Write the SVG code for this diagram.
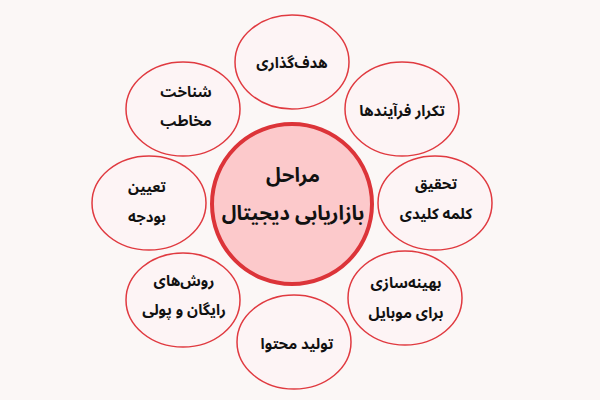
<svg xmlns="http://www.w3.org/2000/svg" width="600" height="400" viewBox="0 0 600 400">
<style>
.bg{fill:#fbf7f6}
.node ellipse{fill:#fdf4f5;stroke:#e03a40;stroke-width:1.5}
.center ellipse{fill:#fcc9cb;stroke:#dc3439;stroke-width:4}
text{font-family:"Noto Sans Arabic","Noto Naskh Arabic","DejaVu Sans",sans-serif;font-size:15px;font-weight:bold;fill:#111;text-anchor:middle;direction:rtl}
.center text{font-size:20px}
</style>
<rect class="bg" width="600" height="400"/>
<g id="connectors"></g>
<g id="n-top" class="node"><ellipse cx="292" cy="62" rx="57" ry="47"/><text x="292" y="68">هدف‌گذاری</text></g>
<g id="n-topleft" class="node"><ellipse cx="183" cy="109" rx="57" ry="47"/><text x="186" y="97">شناخت</text><text x="186" y="126">مخاطب</text></g>
<g id="n-topright" class="node"><ellipse cx="402" cy="109" rx="57" ry="47"/><text x="402" y="116">تکرار فرآیندها</text></g>
<g id="n-left" class="node"><ellipse cx="149" cy="203" rx="57" ry="47"/><text x="147" y="192">تعیین</text><text x="147" y="222">بودجه</text></g>
<g id="n-right" class="node"><ellipse cx="435" cy="203" rx="57" ry="47"/><text x="436" y="189">تحقیق</text><text x="436" y="219">کلمه کلیدی</text></g>
<g id="n-bottomleft" class="node"><ellipse cx="183" cy="300" rx="57" ry="47"/><text x="184" y="286">روش‌های</text><text x="184" y="315">رایگان و پولی</text></g>
<g id="n-bottomright" class="node"><ellipse cx="405" cy="298" rx="57" ry="47"/><text x="406" y="288">بهینه‌سازی</text><text x="406" y="318">برای موبایل</text></g>
<g id="n-bottom" class="node"><ellipse cx="294" cy="342" rx="57" ry="47"/><text x="297" y="349">تولید محتوا</text></g>
<g id="n-center" class="center"><ellipse cx="292" cy="204" rx="80" ry="80"/><text x="293" y="182">مراحل</text><text x="293" y="220">بازاریابی دیجیتال</text></g>
</svg>
